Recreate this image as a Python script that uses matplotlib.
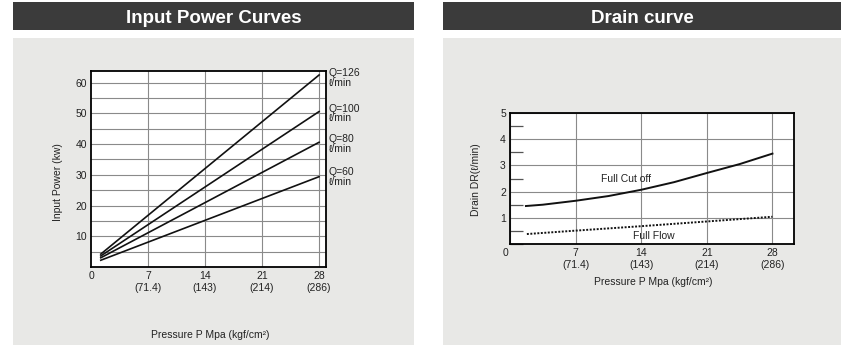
import matplotlib
matplotlib.use('Agg')
import matplotlib.pyplot as plt
import matplotlib.transforms as mtransforms
from matplotlib.patches import Rectangle
from matplotlib.ticker import MultipleLocator

plt.rcParams['font.family'] = ['Liberation Sans', 'DejaVu Sans']

# Input power curves
power_p = [1.2, 28]
power_q126 = [4.2, 62.5]
power_q100 = [3.6, 50.6]
power_q80 = [3.0, 40.6]
power_q60 = [2.2, 29.4]
q_labels = ['Q=126\nℓ/min', 'Q=100\nℓ/min', 'Q=80\nℓ/min', 'Q=60\nℓ/min']
q_label_y = [61.5, 50.0, 40.0, 29.3]

# Drain curves
drain_p = [1.7, 3.5, 7, 10.5, 14, 17.5, 21, 24.5, 28]
drain_cutoff = [1.45, 1.5, 1.65, 1.83, 2.07, 2.36, 2.71, 3.05, 3.45]
flow_p = [1.8, 7, 14, 21, 28]
drain_flow = [0.38, 0.51, 0.68, 0.86, 1.04]

x_ticks = [0, 7, 14, 21, 28]
x_ticklabels = ['0', '7\n(71.4)', '14\n(143)', '21\n(214)', '28\n(286)']

W, H = 855, 359
fig = plt.figure(figsize=(W / 100, H / 100), dpi=100)
fig.patch.set_facecolor('white')


def px_box(x0, y0, x1, y1):
    # pixel box (top-left origin) -> figure coords
    return [x0 / W, 1 - y1 / H, (x1 - x0) / W, (y1 - y0) / H]


# headers and panels
for (hx0, hx1, title) in [(13, 414, 'Input Power Curves'), (443, 841, 'Drain curve')]:
    b = px_box(hx0, 38, hx1, 345)
    fig.patches.append(Rectangle((b[0], b[1]), b[2], b[3], transform=fig.transFigure,
                                 facecolor='#e8e8e6', edgecolor='none', zorder=-2))
    b = px_box(hx0, 2, hx1, 30)
    fig.patches.append(Rectangle((b[0], b[1]), b[2], b[3], transform=fig.transFigure,
                                 facecolor='#3b3b3b', edgecolor='none', zorder=-2))
    fig.text((hx0 + hx1) / 2 / W, 1 - 23 / H, title, color='white', fontsize=13.5,
             fontweight='bold', ha='center', va='baseline')

tick_fs = 7.5

# ---------------- left: input power ----------------
ax1 = fig.add_axes(px_box(91, 71, 326, 267))
ax1.set_facecolor('white')
ax1.plot(power_p, power_q126, color='#111111', lw=1.2)
ax1.plot(power_p, power_q100, color='#111111', lw=1.2)
ax1.plot(power_p, power_q80, color='#111111', lw=1.2)
ax1.plot(power_p, power_q60, color='#111111', lw=1.2)
ax1.set_xlim(0, 28.85)
ax1.set_ylim(0, 63.8)
ax1.set_xticks(x_ticks)
ax1.set_xticklabels(x_ticklabels)
ax1.set_yticks([10, 20, 30, 40, 50, 60])
ax1.yaxis.set_minor_locator(MultipleLocator(5))
ax1.grid(True, which='both', axis='y', color='#8a8a8a', lw=0.8)
for xv in [7, 14, 21, 28]:
    ax1.axvline(xv, color='#8a8a8a', lw=0.8, zorder=1)
ax1.tick_params(which='both', length=0, labelsize=tick_fs, pad=3, colors='#222222')
for s in ax1.spines.values():
    s.set_linewidth(1.3)
ax1.set_axisbelow(True)
for lab, yv in zip(q_labels, q_label_y):
    ax1.text(29.2, yv, lab, fontsize=tick_fs, va='center', ha='left',
             linespacing=0.95, clip_on=False, color='#222222')
fig.text(58 / W, 1 - 182 / H, 'Input Power (kw)', rotation=90, fontsize=tick_fs,
         ha='center', va='center', color='#222222')
fig.text(210 / W, 1 - 335 / H, 'Pressure P Mpa (kgf/cm²)', fontsize=tick_fs,
         ha='center', va='center', color='#222222')

# ---------------- right: drain ----------------
ax2 = fig.add_axes(px_box(510, 113, 794, 244))
ax2.set_facecolor('white')
ax2.plot(drain_p, drain_cutoff, color='#111111', lw=1.4)
ax2.plot(flow_p, drain_flow, color='#111111', lw=1.4, linestyle=(0, (1, 0.8)))
ax2.set_xlim(0, 30.3)
ax2.set_ylim(0, 5)
ax2.set_xticks(x_ticks)
ax2.set_xticklabels(x_ticklabels)
ax2.set_yticks([1, 2, 3, 4, 5])
ax2.yaxis.set_minor_locator(MultipleLocator(0.5))
ax2.grid(True, which='major', color='#8a8a8a', lw=0.8)
ax2.tick_params(which='major', length=0, labelsize=tick_fs, pad=3, colors='#222222')
ax2.tick_params(axis='y', which='minor', direction='in', length=9, width=0.9, color='#555555')
ax2.tick_params(axis='x', which='minor', length=0)
for s in ax2.spines.values():
    s.set_linewidth(1.3)
ax2.set_axisbelow(True)
# the "0" sits a little left of the corner
lbl0 = ax2.get_xticklabels()[0]
lbl0.set_transform(lbl0.get_transform() + mtransforms.ScaledTranslation(-5 / 100, 0, fig.dpi_scale_trans))
ax2.text(12.4, 2.5, 'Full Cut off', fontsize=tick_fs, ha='center', va='center', color='#222222')
ax2.text(15.3, 0.3, 'Full Flow', fontsize=tick_fs, ha='center', va='center', color='#222222')
fig.text(476 / W, 1 - 180 / H, 'Drain DR(ℓ/min)', rotation=90, fontsize=tick_fs,
         ha='center', va='center', color='#222222')
fig.text(653 / W, 1 - 282 / H, 'Pressure P Mpa (kgf/cm²)', fontsize=tick_fs,
         ha='center', va='center', color='#222222')

fig.savefig('out.png', dpi=100)
